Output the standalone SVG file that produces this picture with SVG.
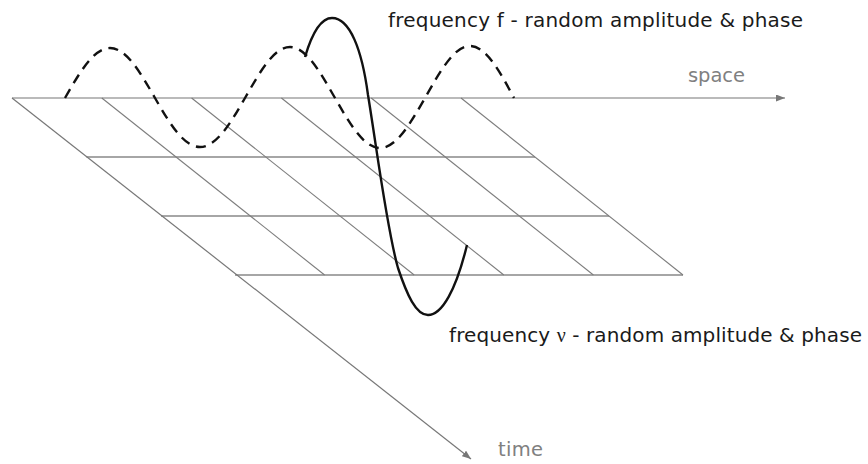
<svg xmlns="http://www.w3.org/2000/svg" width="868" height="464" viewBox="0 0 868 464">
  <style>
    .grid { stroke: #7d7d7d; stroke-width: 1.1; fill: none; }
    .hrow { stroke: #888888; stroke-width: 1.5; fill: none; }
    .axis { stroke: #777777; stroke-width: 1.2; fill: none; marker-end: url(#arrow); }
    .wave { stroke: #111111; stroke-width: 2.4; fill: none; stroke-linecap: butt; }
    .dashed { stroke-dasharray: 10 7; }
    .lbl { font-family: "DejaVu Sans", "Liberation Sans", sans-serif; font-size: 20px; fill: #1a1a1a; }
    .axlbl { font-family: "DejaVu Sans", "Liberation Sans", sans-serif; font-size: 19.5px; fill: #808080; }
    .greek { font-family: "Liberation Serif", "DejaVu Serif", serif; }
  </style>
  <defs>
    <marker id="arrow" markerUnits="userSpaceOnUse" markerWidth="10" markerHeight="8" refX="9" refY="3.5" orient="auto">
      <path d="M0,0 L9,3.5 L0,7 Z" fill="#777777"/>
    </marker>
  </defs>

  <g id="grid">
    <line class="hrow" x1="86.5" y1="157" x2="535" y2="157"/>
    <line class="hrow" x1="161" y1="216" x2="609" y2="216"/>
    <line class="hrow" x1="235" y1="275" x2="683" y2="275"/>
    <line class="grid" x1="101.8" y1="98" x2="324.6" y2="275"/>
    <line class="grid" x1="191.6" y1="98" x2="414.2" y2="275"/>
    <line class="grid" x1="281.4" y1="98" x2="503.8" y2="275"/>
    <line class="grid" x1="371.2" y1="98" x2="593.4" y2="275"/>
    <line class="grid" x1="461" y1="98" x2="683" y2="275"/>
  </g>

  <g id="connectors">
    <line id="space-axis" class="axis" x1="12" y1="98" x2="785" y2="98"/>
    <line id="time-axis" class="axis" x1="12" y1="98" x2="471" y2="459"/>
  </g>

  <g id="wave-f">
    <path class="wave dashed" d="M65,98 C79.7,72.4 93.7,48 110,48 C126.3,48 140.3,72.4 155,98 C169.7,123.6 183.7,147 200,147 C216.3,147 230.3,123.6 245,98 C259.7,72.4 273.7,47 290,47 C306.3,47 320.3,72.4 335,98 C349.7,123.6 363.7,148 380,148 C396.3,148 410.3,123.6 425,98 C439.7,72.4 453.7,46 470,46 C486.3,46 500.3,72.4 514,98"/>
  </g>

  <g id="wave-nu">
    <path class="wave" d="M305,57 C313,30 322,18 332,18 C350,18 362,50 368,95 C377,150 387,230 398,268 C407,295 416,315 428,315 C442,315 456,290 467,245"/>
  </g>

  <g id="labels">
    <text id="label-f" class="lbl" x="388" y="27" textLength="415">frequency f - random amplitude &amp; phase</text>
    <text id="label-nu" class="lbl" x="449" y="342" textLength="413">frequency <tspan class="greek">ν</tspan> - random amplitude &amp; phase</text>
    <text id="label-space" class="axlbl" x="688" y="82" textLength="57">space</text>
    <text id="label-time" class="axlbl" x="498" y="456" textLength="45">time</text>
  </g>
</svg>
